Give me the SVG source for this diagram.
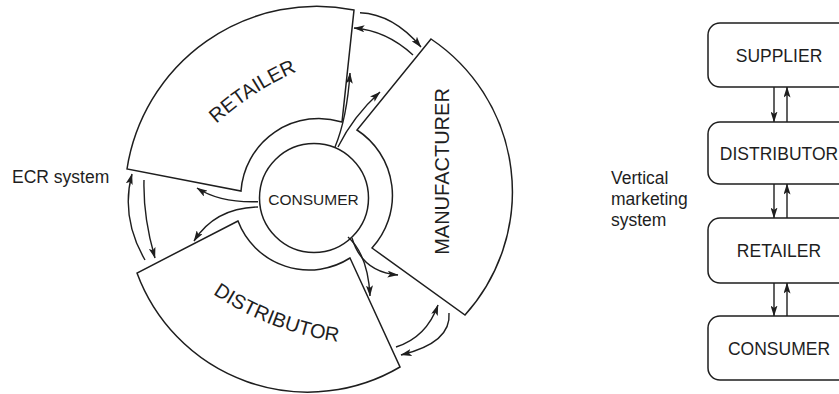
<svg xmlns="http://www.w3.org/2000/svg" width="839" height="394" viewBox="0 0 839 394">
<defs>
<style>
.shape{fill:#fff;stroke:#1e1e1e;stroke-width:1.5;stroke-linejoin:miter}
.con{fill:none;stroke:#1e1e1e;stroke-width:1.4;marker-end:url(#ah)}
.lbl{font-family:"Liberation Sans",Arial,sans-serif;fill:#1e1e1e}
</style>
<marker id="ah" viewBox="0 0 11 7" refX="10.5" refY="3.5" markerWidth="11" markerHeight="7" markerUnits="userSpaceOnUse" orient="auto">
<path d="M0,0 L11,3.5 L0,7 L2.5,3.5 z" fill="#1e1e1e"/>
</marker>
<path id="retPath" d="M200.3,139.4 A300,300 0 0 1 317.7,63.1"/>
<path id="disPath" d="M206.2,289.2 A300,300 0 0 0 346.2,342.9"/>
</defs>
<rect width="839" height="394" fill="#fff"/>

<g id="retailer">
<path class="shape" d="M127,169 A192,192 0 0 1 354,10 L342,122 A78,78 0 0 0 241,191 Z"/>
<text class="lbl" font-size="20" text-anchor="middle"><textPath href="#retPath" startOffset="50%">RETAILER</textPath></text>
</g>
<g id="manufacturer">
<path class="shape" d="M431,39 A184,184 0 0 1 465,315 L372,248 A78,78 0 0 0 357,130 Z"/>
<text class="lbl" font-size="20" text-anchor="middle" transform="translate(449,171.5) rotate(-90)">MANUFACTURER</text>
</g>
<g id="distributor">
<path class="shape" d="M238,221 L137,273 A182,182 0 0 0 400,367 L350,258 A76,76 0 0 1 238,221 Z"/>
<text class="lbl" font-size="20" text-anchor="middle"><textPath href="#disPath" startOffset="50%">DISTRIBUTOR</textPath></text>
</g>
<g id="consumer">
<circle class="shape" cx="314" cy="198" r="54.5"/>
<text class="lbl" font-size="15.5" x="313.5" y="205" text-anchor="middle">CONSUMER</text>
</g>
<g id="ecr-label">
<text class="lbl" font-size="17.5" x="12" y="183">ECR system</text>
</g>

<g id="connectors">
<path class="con" d="M360,12.7 Q393.5,14.2 421,47"/>
<path class="con" d="M413,55 Q386.5,30.5 354,28"/>
<path class="con" d="M145,260 Q120.3,217 132,174"/>
<path class="con" d="M144,180 Q143,217 155,258"/>
<path class="con" d="M396,347 Q426.4,337.4 438,305"/>
<path class="con" d="M449,313 Q451.6,342.6 401,355"/>
<path class="con" d="M335,147 Q347,118 350,73"/>
<path class="con" d="M338,147 Q353,116.5 380,92"/>
<path class="con" d="M258,201.7 Q220,203 197,188"/>
<path class="con" d="M258,207 Q215,208 194,241"/>
<path class="con" d="M352,238 Q362,272 398,275"/>
<path class="con" d="M348,237 Q368,255 370,296"/>
<path class="con" d="M774,87 L774,122"/>
<path class="con" d="M787,122 L787,87"/>
<path class="con" d="M774,184 L774,218"/>
<path class="con" d="M787,218 L787,184"/>
<path class="con" d="M774,283 L774,316"/>
<path class="con" d="M787,316 L787,283"/>
</g>

<g id="vms-label">
<text class="lbl" font-size="17.5" x="611" y="184">Vertical</text>
<text class="lbl" font-size="17.5" x="611" y="205">marketing</text>
<text class="lbl" font-size="17.5" x="611" y="226">system</text>
</g>
<g id="supplier">
<rect class="shape" x="708" y="23" width="143" height="64" rx="12"/>
<text class="lbl" font-size="17.5" x="779" y="61.5" text-anchor="middle">SUPPLIER</text>
</g>
<g id="distributor-box">
<rect class="shape" x="708" y="122" width="143" height="62" rx="12"/>
<text class="lbl" font-size="17.5" x="779" y="159.5" text-anchor="middle">DISTRIBUTOR</text>
</g>
<g id="retailer-box">
<rect class="shape" x="708" y="218" width="143" height="65" rx="12"/>
<text class="lbl" font-size="17.5" x="779" y="257" text-anchor="middle">RETAILER</text>
</g>
<g id="consumer-box">
<rect class="shape" x="708" y="316" width="143" height="64" rx="12"/>
<text class="lbl" font-size="17.5" x="779" y="354.5" text-anchor="middle">CONSUMER</text>
</g>
</svg>
